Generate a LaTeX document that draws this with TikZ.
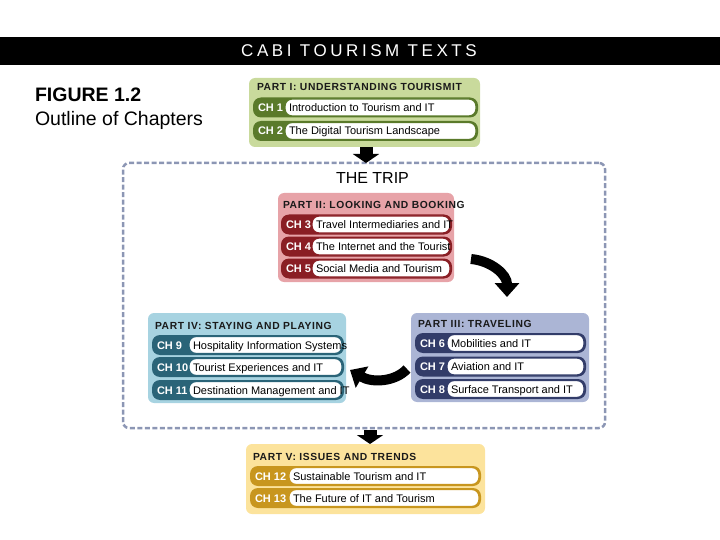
\documentclass[tikz,border=0pt]{standalone}
\usepackage{fontspec}
\setmainfont{Liberation Sans}
\newfontfamily\titlefont[LetterSpace=6]{Liberation Sans}
\newfontfamily\bandfont[LetterSpace=21]{Liberation Sans}
\usetikzlibrary{arrows.meta}
\definecolor{gfill}{HTML}{C9DA9C}
\definecolor{gdark}{HTML}{5A7A2A}
\definecolor{rfill}{HTML}{E7A3A8}
\definecolor{rdark}{HTML}{8A1E24}
\definecolor{bfill}{HTML}{ABB5D5}
\definecolor{bdark}{HTML}{323C69}
\definecolor{tfill}{HTML}{A7D3E1}
\definecolor{tdark}{HTML}{2A6478}
\definecolor{yfill}{HTML}{FCE39C}
\definecolor{ydark}{HTML}{C8961E}
\definecolor{dashc}{HTML}{8C96B4}
\definecolor{ink}{HTML}{1A1A1A}
\newcommand{\chrow}[8]{%
  \node[pill, fill=#6, minimum width={#5-#3+2}, anchor=west] (#1p) at (#3,#2) {};
  \node[wbox, draw=#6, minimum width={#5-#4}, anchor=west] (#1w) at (#4,#2) {};
  \node[chlab, anchor=base west] (#1l) at ({#3+5},{#2+4}) {#7};
  \node[chtxt, anchor=base west] (#1t) at ({#4+4},{#2+4}) {#8};
}
\begin{document}
\begin{tikzpicture}[x=1pt,y=-1pt,
  every node/.style={inner sep=0pt, outer sep=0pt},
  partbox/.style={rounded corners=6pt, anchor=north west},
  pill/.style={rounded corners=8pt, minimum height=20pt},
  wbox/.style={rounded corners=7pt, minimum height=17pt, fill=white, line width=1.3pt},
  chlab/.style={text=white, font=\fontsize{11}{12}\selectfont\bfseries},
  chtxt/.style={text=black, font=\fontsize{11}{13}\selectfont},
  parttitle/.style={text=ink, anchor=base west, font=\titlefont\fontsize{10.3}{12}\selectfont\bfseries},
  blockarrow/.style={line width=13pt, -{Triangle[width=26pt,length=9pt]}},
  curvearrow/.style={line width=10pt, -{Triangle[width=24pt,length=14pt]}}
]
\useasboundingbox (0,0) rectangle (720,540);
% top band
\fill[black] (0,37) rectangle (720,65);
\node[text=white, font=\bandfont\fontsize{17}{19}\selectfont] (band) at (359,51) {CABI TOURISM TEXTS};
% figure caption
\node[anchor=base west, font=\fontsize{19.5}{22}\selectfont\bfseries] (fig) at (35,102) {FIGURE 1.2};
\node[anchor=base west, font=\fontsize{19.5}{22}\selectfont] (figsub) at (35,126) {Outline of Chapters};
% dashed trip frame
\node[draw=dashc, line width=2.5pt, dash pattern=on 5pt off 2.5pt, rounded corners=6pt,
  minimum width=482pt, minimum height=265pt, anchor=north west] (trip) at (123,163) {};
\node[anchor=base west, font=\fontsize{16}{18}\selectfont] (triptitle) at (336,184) {THE TRIP};
% Part I
\node[partbox, fill=gfill, minimum width=231pt, minimum height=69pt] (p1) at (249,78) {};
\node[parttitle] (p1t) at (257,91) {PART I: UNDERSTANDING TOURISMIT};
\chrow{c1}{107.5}{253}{285}{476}{gdark}{CH 1}{Introduction to Tourism and IT}
\chrow{c2}{131}{253}{285}{476}{gdark}{CH 2}{The Digital Tourism Landscape}
% Part II
\node[partbox, fill=rfill, minimum width=176pt, minimum height=89pt] (p2) at (278,193) {};
\node[parttitle] (p2t) at (283,208) {PART II: LOOKING AND BOOKING};
\chrow{c3}{224.5}{281}{312}{450}{rdark}{CH 3}{Travel Intermediaries and IT}
\chrow{c4}{246.5}{281}{312}{450}{rdark}{CH 4}{The Internet and the Tourist}
\chrow{c5}{268.5}{281}{312}{450}{rdark}{CH 5}{Social Media and Tourism}
% Part III
\node[partbox, fill=bfill, minimum width=178pt, minimum height=89pt] (p3) at (411,313) {};
\node[parttitle] (p3t) at (418,327) {PART III: TRAVELING};
\chrow{c6}{343}{415}{447}{584}{bdark}{CH 6}{Mobilities and IT}
\chrow{c7}{366.5}{415}{447}{584}{bdark}{CH 7}{Aviation and IT}
\chrow{c8}{389}{415}{447}{584}{bdark}{CH 8}{Surface Transport and IT}
% Part IV
\node[partbox, fill=tfill, minimum width=198pt, minimum height=90pt] (p4) at (148,313) {};
\node[parttitle] (p4t) at (155,329) {PART IV: STAYING AND PLAYING};
\chrow{c9}{345}{152}{189}{342}{tdark}{CH 9}{Hospitality Information Systems}
\chrow{c10}{367}{152}{189}{342}{tdark}{CH 10}{Tourist Experiences and IT}
\chrow{c11}{390}{152}{189}{342}{tdark}{CH 11}{Destination Management and IT}
% Part V
\node[partbox, fill=yfill, minimum width=239pt, minimum height=70pt] (p5) at (246,444) {};
\node[parttitle] (p5t) at (253,460) {PART V: ISSUES AND TRENDS};
\chrow{c12}{476}{250}{289}{479}{ydark}{CH 12}{Sustainable Tourism and IT}
\chrow{c13}{498}{250}{289}{479}{ydark}{CH 13}{The Future of IT and Tourism}
% arrows
\coordinate (a1e) at (366,163);
\draw[blockarrow] (p1.south -| a1e) -- (a1e);
\coordinate (a2s) at (370,430);
\draw[blockarrow] (a2s) -- (p5.north -| a2s);
\coordinate (k1s) at (471,259);
\coordinate (k1e) at (507,297);
\draw[curvearrow] (k1s) .. controls (492,261) and (507,275) .. (k1e);
\coordinate (k2s) at (407,369);
\coordinate (k2e) at (350,370);
\draw[curvearrow] (k2s) .. controls (395,382) and (372,383) .. (k2e);
\end{tikzpicture}
\end{document}
